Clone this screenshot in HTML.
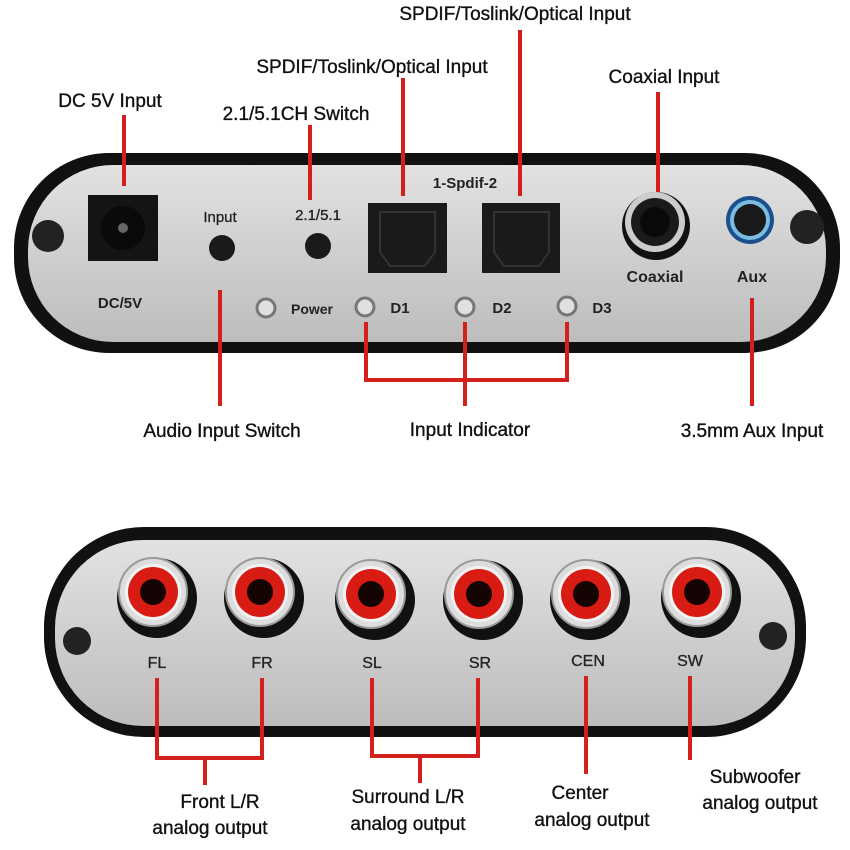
<!DOCTYPE html>
<html><head><meta charset="utf-8"><style>
html,body{margin:0;padding:0;background:#fff;}
svg{display:block;}
text{font-family:"Liberation Sans",Arial,sans-serif;}
.lbl{font-size:19px;fill:#111;text-anchor:middle;stroke:#111;stroke-width:0.35;}
.pl{font-size:15px;fill:#222;text-anchor:middle;font-weight:bold;}
.pn{font-size:16px;fill:#222;text-anchor:middle;stroke:#222;stroke-width:0.3;}
.r{stroke:#d4201c;stroke-width:4;fill:none;}
</style></head><body>
<svg width="850" height="850" viewBox="0 0 850 850">
<defs>
<linearGradient id="sil" x1="0" y1="0" x2="0" y2="1">
<stop offset="0" stop-color="#e2e2e2"/><stop offset="0.5" stop-color="#cfcfcf"/><stop offset="1" stop-color="#bdbdbd"/>
</linearGradient>
<g id="rca">
<circle cx="4" cy="6" r="40" fill="#111"/>
<circle cx="0" cy="0" r="34" fill="#ddd" stroke="#999" stroke-width="2"/>
<circle cx="0" cy="0" r="28" fill="#f2f2f2"/>
<circle cx="0" cy="0" r="25" fill="#d81c14"/>
<circle cx="0" cy="0" r="13" fill="#150404"/>
</g>
</defs>

<rect x="14" y="153" width="826" height="200" rx="95" fill="#111"/>
<rect x="28" y="165" width="798" height="177" rx="85" fill="url(#sil)"/>
<circle cx="48" cy="236" r="16" fill="#222"/>
<circle cx="807" cy="227" r="17" fill="#222"/>
<rect x="88" y="195" width="70" height="66" fill="#141414"/>
<circle cx="123" cy="228" r="22" fill="#0a0a0a"/>
<circle cx="123" cy="228" r="5" fill="#666"/>
<text class="pl" x="120" y="308" font-size="16">DC/5V</text>
<text class="pn" x="220" y="222" style="font-size:15px">Input</text>
<circle cx="222" cy="248" r="13" fill="#1a1a1a"/>
<text class="pn" x="318" y="220" style="font-size:15px">2.1/5.1</text>
<circle cx="318" cy="246" r="13" fill="#1a1a1a"/>
<text class="pl" x="465" y="188">1-Spdif-2</text>
<rect x="368" y="203" width="79" height="70" fill="#1a1a1a"/>
<rect x="482" y="203" width="78" height="70" fill="#1a1a1a"/>
<path d="M380 212 h55 v40 l-10 14 h-35 l-10 -14z" fill="none" stroke="#333" stroke-width="2"/>
<path d="M494 212 h55 v40 l-10 14 h-35 l-10 -14z" fill="none" stroke="#333" stroke-width="2"/>
<circle cx="656" cy="226" r="34" fill="#111"/>
<circle cx="655" cy="222" r="30" fill="#ccc"/>
<circle cx="655" cy="222" r="24" fill="#1a1a1a"/>
<circle cx="655" cy="222" r="15" fill="#0a0a0a"/>
<text class="pl" x="655" y="282" style="font-size:16px">Coaxial</text>
<circle cx="750" cy="220" r="24" fill="#1c4f8c"/>
<circle cx="750" cy="220" r="20" fill="#7bbde0"/>
<circle cx="750" cy="220" r="16" fill="#1a1a1a"/>
<text class="pl" x="752" y="282" style="font-size:16px">Aux</text>
<g fill="#e0e0e0" stroke="#777" stroke-width="3">
<circle cx="266" cy="308" r="9"/><circle cx="365" cy="307" r="9"/><circle cx="465" cy="307" r="9"/><circle cx="567" cy="306" r="9"/>
</g>
<text class="pl" x="312" y="314" style="font-size:14px">Power</text>
<text class="pl" x="400" y="313">D1</text>
<text class="pl" x="502" y="313">D2</text>
<text class="pl" x="602" y="313">D3</text>

<path class="r" d="M124 115V186 M310 125V200 M403 78V196 M520 30V196 M658 92V192 M220 290V406 M752 298V406 M366 322V380H567V322 M465 322V406"/>
<text class="lbl" x="110" y="107">DC 5V Input</text>
<text class="lbl" x="296" y="120">2.1/5.1CH Switch</text>
<text class="lbl" x="372" y="73">SPDIF/Toslink/Optical Input</text>
<text class="lbl" x="515" y="20">SPDIF/Toslink/Optical Input</text>
<text class="lbl" x="664" y="83">Coaxial Input</text>
<text class="lbl" x="222" y="437">Audio Input Switch</text>
<text class="lbl" x="470" y="436">Input Indicator</text>
<text class="lbl" x="752" y="437">3.5mm Aux Input</text>

<rect x="44" y="527" width="762" height="210" rx="100" fill="#111"/>
<rect x="55" y="540" width="740" height="186" rx="88" fill="url(#sil)"/>
<circle cx="77" cy="641" r="14" fill="#222"/>
<circle cx="773" cy="636" r="14" fill="#222"/>
<use href="#rca" x="153" y="592"/>
<use href="#rca" x="260" y="592"/>
<use href="#rca" x="371" y="594"/>
<use href="#rca" x="479" y="594"/>
<use href="#rca" x="586" y="594"/>
<use href="#rca" x="697" y="592"/>
<text class="pn" x="157" y="668">FL</text>
<text class="pn" x="262" y="668">FR</text>
<text class="pn" x="372" y="668">SL</text>
<text class="pn" x="480" y="668">SR</text>
<text class="pn" x="588" y="666">CEN</text>
<text class="pn" x="690" y="666">SW</text>
<path class="r" d="M157 678V758H262V678 M205 758V785 M372 678V756H478V678 M420 756V783 M586 676V774 M690 676V760"/>
<text class="lbl" x="220" y="808">Front L/R</text>
<text class="lbl" x="210" y="834">analog output</text>
<text class="lbl" x="408" y="803">Surround L/R</text>
<text class="lbl" x="408" y="830">analog output</text>
<text class="lbl" x="580" y="799">Center</text>
<text class="lbl" x="592" y="826">analog output</text>
<text class="lbl" x="755" y="783">Subwoofer</text>
<text class="lbl" x="760" y="809">analog output</text>
</svg>
</body></html>
